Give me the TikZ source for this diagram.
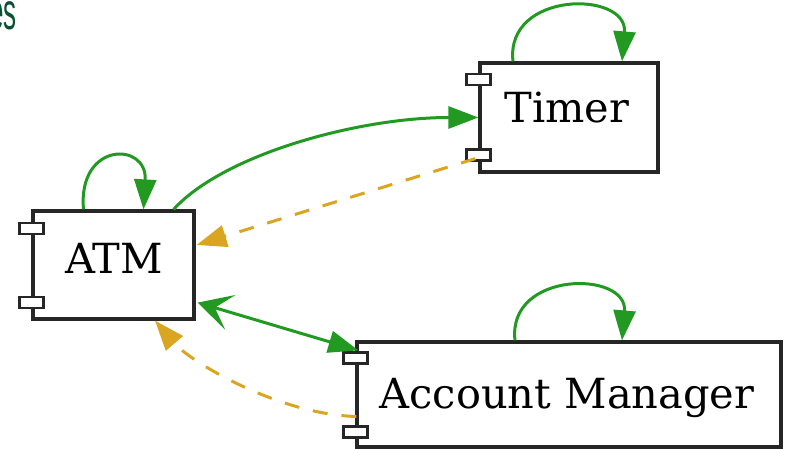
\documentclass[tikz,border=0pt]{standalone}
\usepackage{fontspec}
\setmainfont{DejaVu Serif}
\newfontfamily\titlefont{Liberation Sans}
\usetikzlibrary{arrows.meta,calc}
\definecolor{edgegreen}{HTML}{229A22}
\definecolor{edgeorange}{HTML}{DAA520}
\definecolor{titlegreen}{HTML}{0B5234}
\begin{document}
\begin{tikzpicture}[x=1pt,y=-1pt,
  comp/.style={draw=black!85, line width=3.2pt, fill=white, inner sep=0pt},
  tabbox/.style={draw=black!85, line width=2.4pt, fill=white, minimum width=24pt, minimum height=11pt, inner sep=0pt},
  lbl/.style={font=\fontsize{41.5}{48}\selectfont, inner sep=0pt, anchor=base},
  greenedge/.style={draw=edgegreen, line width=3pt, -{Triangle[length=30pt,width=22pt]}},
  greenboth/.style={draw=edgegreen, line width=3pt, {Stealth[length=34pt,width=36pt,inset=16pt]}-{Triangle[length=30pt,width=22pt]}},
  orangeedge/.style={draw=edgeorange, line width=3pt, dash pattern=on 15pt off 14pt, -{Triangle[length=30pt,width=22pt]}}
]
\useasboundingbox (0,0) rectangle (790,449);

% title fragment
\node[font=\titlefont\fontsize{52}{60}\selectfont, text=titlegreen, anchor=base east, xscale=0.5, inner sep=0pt] (title) at (17,30) {es};

% component boxes
\node[comp, minimum width=161pt, minimum height=108pt] (atm) at (113.5,265) {};
\node[comp, minimum width=178pt, minimum height=109pt] (timer) at (569,117.5) {};
\node[comp, minimum width=424pt, minimum height=105pt] (am) at (569,394.5) {};

% labels
\node[lbl] (atmlbl) at (114,273) {ATM};
\node[lbl] (timerlbl) at (567,123) {Timer};
\node[lbl] (amlbl) at (567,408) {Account Manager};

% component tabs
\node[tabbox] (atmt1) at ($(atm.north west)+(0,19)$) {};
\node[tabbox] (atmt2) at ($(atm.south west)+(0,-18)$) {};
\node[tabbox] (timert1) at ($(timer.north west)+(0,18)$) {};
\node[tabbox] (timert2) at ($(timer.south west)+(0,-18.5)$) {};
\node[tabbox] (amt1) at ($(am.north west)+(0,17.5)$) {};
\node[tabbox] (amt2) at ($(am.south west)+(0,-16.5)$) {};

% self loops
\draw[greenedge] ([xshift=-30pt]atm.north) .. controls +(-6,-68) and +(4,-68) .. ([xshift=30pt]atm.north);
\draw[greenedge] ([xshift=-56pt]timer.north) .. controls +(-8,-71) and +(6,-71) .. ([xshift=53pt]timer.north);
\draw[greenedge] ([xshift=-54pt]am.north) .. controls +(-8,-70) and +(6,-70) .. ([xshift=53pt]am.north);

% edges
\draw[greenedge] ([xshift=-22pt]atm.north east) .. controls +(50,-55) and +(-120,0) .. (timer.west);
\draw[orangeedge] ($(timer.south west)+(-3,-15)$) -- ($(atm.east)+(1,-20)$);
\draw[greenboth] ($(atm.south east)+(2,-18)$) -- ($(am.north west)+(3,10)$);
\draw[orangeedge] ($(am.west)+(1,22)$) .. controls +(-78,-2) and +(35,41) .. ($(atm.south)+(41.5,0)$);
\end{tikzpicture}
\end{document}
